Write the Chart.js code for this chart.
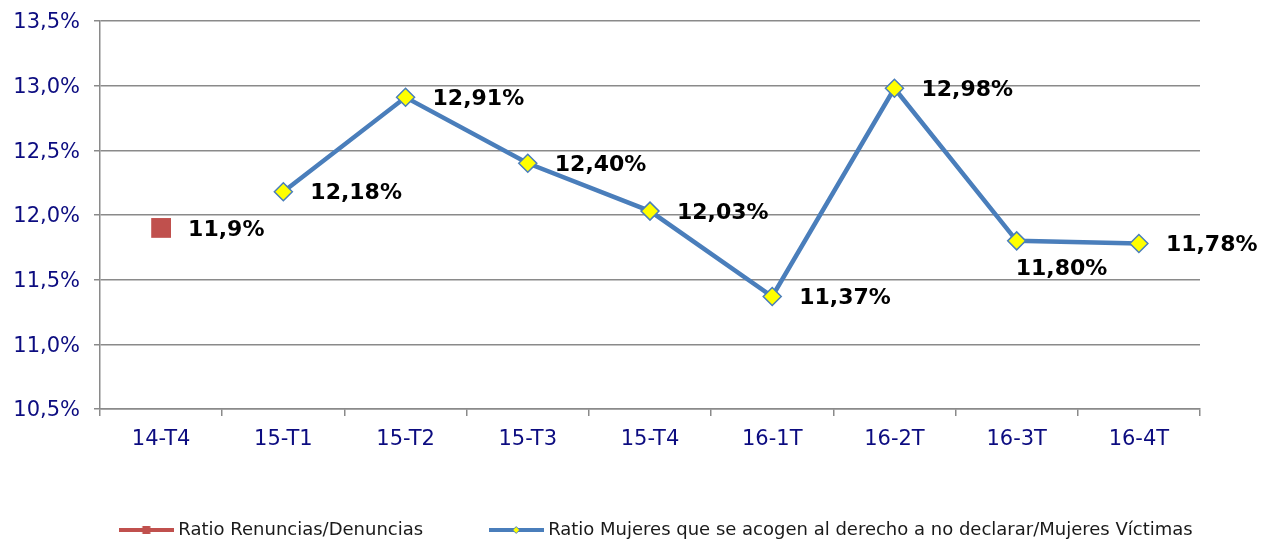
<!DOCTYPE html>
<html lang="es">
<head>
<meta charset="utf-8">
<title>Ratio Renuncias / Denuncias</title>
<script src="https://cdn.jsdelivr.net/npm/chart.js@4.4.0/dist/chart.umd.min.js"></script>
<style>
    html, body { margin: 0; padding: 0; background: #fff; }
    #caja { width: 1272px; height: 539px; position: relative; }
</style>
</head>
<body>
<div id="caja"><canvas id="grafico"></canvas></div>
<script>
// ========== DATOS ==========
const trimestres = ['14-T4', '15-T1', '15-T2', '15-T3', '15-T4', '16-1T', '16-2T', '16-3T', '16-4T'];
const ratioRenuncias = [11.9, null, null, null, null, null, null, null, null];
const ratioMujeres = [null, 12.18, 12.91, 12.40, 12.03, 11.37, 12.98, 11.80, 11.78];
const ticksEjeY = [10.5, 11.0, 11.5, 12.0, 12.5, 13.0, 13.5];
const nombresSeries = [
    'Ratio Renuncias/Denuncias',
    'Ratio Mujeres que se acogen al derecho a no declarar/Mujeres Víctimas'
];

// Colores
const ROJO = '#c0504d';
const AZUL = '#4a7ebb';
const AMARILLO = '#ffff00';
const GRIS = '#8a8a8a';
const AZUL_TEXTO = '#0c0c80';

Chart.defaults.font.family = "'DejaVu Sans', Verdana, sans-serif";

const formatoPct = (v, dec) => v.toFixed(dec).replace('.', ',') + '%';

// Símbolos de la leyenda (línea con marcador)
function simboloLeyenda(color, tipo) {
    const c = document.createElement('canvas');
    c.width = 55;
    c.height = 18;
    const g = c.getContext('2d');
    g.strokeStyle = color;
    g.lineWidth = 4;
    g.lineCap = 'butt';
    g.beginPath();
    g.moveTo(0, 9);
    g.lineTo(55, 9);
    g.stroke();
    if (tipo === 'cuadrado') {
        g.fillStyle = color;
        g.fillRect(23.5, 5, 8, 8);
    } else {
        g.fillStyle = AMARILLO;
        g.strokeStyle = color;
        g.lineWidth = 1;
        g.beginPath();
        g.moveTo(27.5, 5.5);
        g.lineTo(31, 9);
        g.lineTo(27.5, 12.5);
        g.lineTo(24, 9);
        g.closePath();
        g.fill();
        g.stroke();
    }
    return c;
}

// Etiquetas de datos junto a cada punto
const etiquetasDatos = {
    id: 'etiquetasDatos',
    afterDatasetsDraw(chart) {
        const ctx = chart.ctx;
        ctx.save();
        ctx.font = "bold 22px 'DejaVu Sans', Verdana, sans-serif";
        ctx.fillStyle = '#000';
        ctx.textAlign = 'left';
        ctx.textBaseline = 'middle';
        chart.data.datasets.forEach((ds, d) => {
            const meta = chart.getDatasetMeta(d);
            meta.data.forEach((pt, i) => {
                const v = ds.data[i];
                if (v === null || v === undefined) return;
                const abajo = (ds.etiquetasAbajo || []).includes(i);
                const x = abajo ? pt.x - 1 : pt.x + 27;
                const y = abajo ? pt.y + 28 : pt.y + 2;
                ctx.fillText(formatoPct(v, ds.decimales), x, y);
            });
        });
        ctx.restore();
    }
};

// Desplaza la leyenda hacia la derecha como en el original
const moverLeyenda = {
    id: 'moverLeyenda',
    afterLayout(chart) {
        if (chart.legend) {
            chart.legend.left += 22;
            chart.legend.right += 22;
        }
    }
};

const ctx = document.getElementById('grafico').getContext('2d');

new Chart(ctx, {
    type: 'line',
    data: {
        labels: trimestres,
        datasets: [
            {
                label: nombresSeries[0],
                data: ratioRenuncias,
                decimales: 1,
                borderColor: ROJO,
                backgroundColor: ROJO,
                borderWidth: 4,
                pointStyle: 'rect',
                pointRadius: 14,
                pointBorderWidth: 0,
                pointBackgroundColor: ROJO,
                showLine: false
            },
            {
                label: nombresSeries[1],
                data: ratioMujeres,
                decimales: 2,
                etiquetasAbajo: [7],
                borderColor: AZUL,
                backgroundColor: AZUL,
                borderWidth: 4.5,
                tension: 0,
                pointStyle: 'rectRot',
                pointRadius: 9,
                pointBorderWidth: 1.5,
                pointBorderColor: AZUL,
                pointBackgroundColor: AMARILLO
            }
        ]
    },
    options: {
        responsive: true,
        maintainAspectRatio: false,
        animation: false,
        devicePixelRatio: 1,
        layout: {
            padding: { left: 0, right: 0, top: 21, bottom: -10 }
        },
        plugins: {
            legend: {
                position: 'bottom',
                labels: {
                    usePointStyle: true,
                    pointStyleWidth: 46,
                    padding: 70,
                    color: '#1a1a1a',
                    font: { size: 18 },
                    generateLabels: function(chart) {
                        return [
                            { text: nombresSeries[0], pointStyle: simboloLeyenda(ROJO, 'cuadrado'), fillStyle: ROJO, strokeStyle: ROJO, lineWidth: 0, datasetIndex: 0, fontColor: '#1a1a1a' },
                            { text: nombresSeries[1], pointStyle: simboloLeyenda(AZUL, 'rombo'), fillStyle: AZUL, strokeStyle: AZUL, lineWidth: 0, datasetIndex: 1, fontColor: '#1a1a1a' }
                        ];
                    }
                }
            },
            tooltip: { enabled: false }
        },
        scales: {
            x: {
                offset: true,
                grid: {
                    offset: true,
                    drawOnChartArea: false,
                    drawTicks: true,
                    tickLength: 7,
                    color: GRIS,
                    lineWidth: 1.5
                },
                border: { display: true, color: GRIS, width: 1.5 },
                ticks: {
                    color: AZUL_TEXTO,
                    font: { size: 21 },
                    padding: 11,
                    maxRotation: 0,
                    autoSkip: false
                },
                afterFit: function(scale) {
                    scale.height = 42;
                    scale.paddingLeft = 0;
                    scale.paddingRight = 0;
                }
            },
            y: {
                min: ticksEjeY[0],
                max: ticksEjeY[ticksEjeY.length - 1],
                afterBuildTicks: function(scale) {
                    scale.ticks = ticksEjeY.map(v => ({ value: v }));
                },
                grid: {
                    color: GRIS,
                    lineWidth: 1.5,
                    drawTicks: true,
                    tickLength: 6
                },
                border: { display: true, color: GRIS, width: 1.5 },
                ticks: {
                    color: AZUL_TEXTO,
                    font: { size: 21 },
                    padding: 14,
                    labelOffset: 2,
                    callback: function(value) {
                        return formatoPct(value, 1);
                    }
                },
                afterFit: function(scale) {
                    scale.width = 100;
                    scale.paddingTop = 0;
                    scale.paddingBottom = 0;
                }
            },
            yDerecha: {
                position: 'right',
                display: true,
                grid: { display: false, drawTicks: false },
                border: { display: false },
                ticks: { display: false },
                afterFit: function(scale) {
                    scale.width = 72;
                    scale.paddingTop = 0;
                    scale.paddingBottom = 0;
                }
            }
        }
    },
    plugins: [etiquetasDatos, moverLeyenda]
});
</script>
</body>
</html>
